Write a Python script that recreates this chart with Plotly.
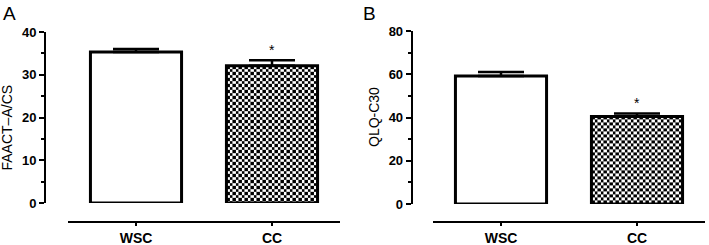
import base64
import plotly.graph_objects as go

# ---- data ----
categories = ["WSC", "CC"]
faact_values = [35.3, 32.1]
faact_errors = [0.7, 1.3]
qlq_values = [59.2, 40.5]
qlq_errors = [1.8, 1.4]
faact_ticks = [0, 10, 20, 30, 40]
qlq_ticks = [0, 20, 40, 60, 80]
significant = [False, True]

W, H = 709, 245
FONT = "Liberation Sans, Arial, sans-serif"
xpos = list(range(len(categories)))
BAR_W = 0.67
PX_PER_X = 136.0

fig = go.Figure()


def checker_image(xc, top, px_per_y, xa, ya, cell=3):
    wpx = BAR_W * PX_PER_X
    hpx = top * px_per_y
    svg = (
        f'<svg xmlns="http://www.w3.org/2000/svg" width="{wpx:.1f}" '
        f'height="{hpx:.1f}" viewBox="0 0 {wpx:.1f} {hpx:.1f}" '
        f'preserveAspectRatio="none" shape-rendering="crispEdges">'
        f'<defs><pattern id="p" width="{2*cell}" height="{2*cell}" '
        f'patternUnits="userSpaceOnUse">'
        f'<rect width="{2*cell}" height="{2*cell}" fill="white"/>'
        f'<rect width="{cell}" height="{cell}" fill="black"/>'
        f'<rect x="{cell}" y="{cell}" width="{cell}" height="{cell}" '
        f'fill="black"/></pattern></defs>'
        f'<rect width="100%" height="100%" fill="url(#p)"/></svg>'
    )
    src = "data:image/svg+xml;base64," + base64.b64encode(svg.encode()).decode()
    fig.add_layout_image(source=src, xref=xa, yref=ya, x=xc - BAR_W / 2,
                         y=top, sizex=BAR_W, sizey=top, sizing="stretch",
                         xanchor="left", yanchor="top", layer="below")


def panel(values, errors, xa, ya, px_per_y):
    checker_image(xpos[1], values[1], px_per_y, xa, ya)
    fig.add_trace(go.Bar(
        x=xpos, y=values, width=BAR_W, xaxis=xa, yaxis=ya,
        marker=dict(color=["white", "rgba(0,0,0,0)"],
                    line=dict(color="black", width=3)),
        error_y=dict(type="data", symmetric=False, array=errors,
                     arrayminus=[0] * len(errors), color="black",
                     thickness=2.5, width=23),
        showlegend=False, hoverinfo="skip"))
    for i, sig in enumerate(significant):
        if sig:
            fig.add_annotation(x=xpos[i], y=values[i] + errors[i], xref=xa,
                               yref=ya, text="*", showarrow=False,
                               yshift=10, font=dict(family=FONT, size=14,
                                                    color="black"))


panel(faact_values, faact_errors, "x", "y", 171 / 40)
panel(qlq_values, qlq_errors, "x2", "y2", 173 / 80)

xaxis_common = dict(range=[-0.5, 1.5], tickvals=xpos,
                    ticktext=["<b>%s</b>" % c for c in categories],
                    showline=True, linecolor="black", linewidth=1.5,
                    ticks="outside", ticklen=4, tickwidth=1.5,
                    tickcolor="black", showgrid=False, zeroline=False,
                    tickfont=dict(family=FONT, size=14, color="black"),
                    anchor="free", position=(H - 221.7) / H,
                    automargin=False, fixedrange=True)
yaxis_common = dict(showline=True, linecolor="black", linewidth=2,
                    ticks="outside", ticklen=5, tickwidth=2,
                    tickcolor="black", showgrid=False, zeroline=False,
                    tickfont=dict(family=FONT, size=13, color="black"),
                    anchor="free", automargin=False, fixedrange=True)

fig.update_layout(
    width=W, height=H, margin=dict(l=0, r=0, t=0, b=0, autoexpand=False),
    plot_bgcolor="rgba(0,0,0,0)", paper_bgcolor="white",
    xaxis=dict(domain=[68 / W, 340 / W], **xaxis_common),
    xaxis2=dict(domain=[433 / W, 705 / W], **xaxis_common),
    yaxis=dict(domain=[(H - 203) / H, (H - 32) / H], range=[0, 40],
               tickvals=faact_ticks,
               ticktext=["<b>%d</b>" % t for t in faact_ticks],
               position=45 / W,
               minor=dict(dtick=5, ticks="outside", ticklen=3,
                          tickwidth=1.5, tickcolor="black"),
               **yaxis_common),
    yaxis2=dict(domain=[(H - 204) / H, (H - 31) / H], range=[0, 80],
                tickvals=qlq_ticks,
                ticktext=["<b>%d</b>" % t for t in qlq_ticks],
                position=411.7 / W,
                minor=dict(dtick=10, ticks="outside", ticklen=3,
                           tickwidth=1.5, tickcolor="black"),
                **yaxis_common),
    showlegend=False,
)

fig.add_annotation(x=-4 / W, y=(H - 127.5) / H, xref="paper", yref="paper",
                   text="FAACT\u2013A/CS", textangle=-90, showarrow=False,
                   xanchor="left",
                   font=dict(family=FONT, size=14, color="black"))
fig.add_annotation(x=363.5 / W, y=(H - 117.5) / H, xref="paper", yref="paper",
                   text="QLQ-C30", textangle=-90, showarrow=False,
                   xanchor="left",
                   font=dict(family=FONT, size=14, color="black"))
fig.add_annotation(x=1 / W, y=(H - 1) / H, xref="paper", yref="paper",
                   text="A", showarrow=False, xanchor="left", yanchor="top",
                   font=dict(family=FONT, size=19, color="black"))
fig.add_annotation(x=361 / W, y=(H - 1) / H, xref="paper", yref="paper",
                   text="B", showarrow=False, xanchor="left", yanchor="top",
                   font=dict(family=FONT, size=19, color="black"))

fig.write_html("out.html", config={"displayModeBar": False},
               post_script="document.body.style.margin='0';"
                           "document.body.style.padding='0';")
